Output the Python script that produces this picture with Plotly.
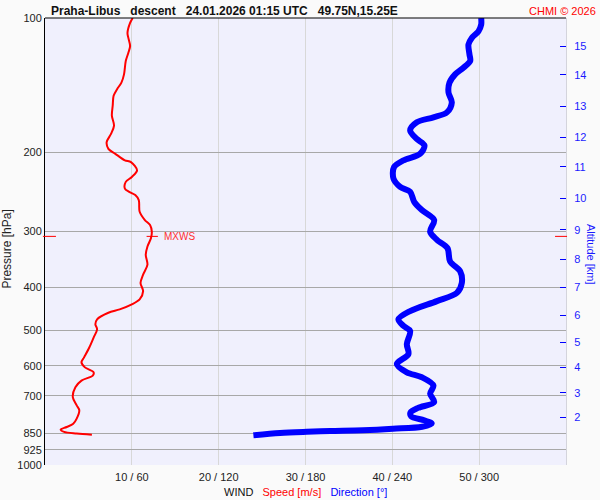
import plotly.graph_objects as go
import numpy as np

# ---- data ----
speed_p = [100.0, 102.6, 108.0, 110.8, 115.6, 119.6, 124.8, 133.7, 139.5, 144.3,
           149.3, 156.9, 165.4, 174.1, 181.7, 189.6, 196.2, 201.3, 208.2, 210.1,
           219.2, 226.8, 232.6, 240.7, 244.8, 249.0, 255.5, 271.3, 283.1, 290.4,
           300.5, 311.0, 324.4, 338.5, 356.3, 375.0, 391.5, 408.4, 426.1, 437.2,
           448.6, 456.4, 472.1, 484.3, 496.9, 518.6, 545.9, 574.5, 589.4, 604.8,
           620.4, 631.0, 647.4, 669.9, 705.1, 735.7, 754.7, 787.5, 808.8, 822.1,
           833.1, 843.4, 850.4, 855.5]
speed_ms = [10.1, 9.8, 9.5, 9.6, 9.8, 9.6, 9.3, 9.1, 8.8, 8.3,
            7.9, 7.8, 7.7, 7.95, 7.6, 7.1, 7.3, 8.1, 9.2, 9.9,
            10.6, 10.0, 9.3, 9.2, 9.7, 10.4, 10.8, 10.9, 11.5, 12.1,
            12.3, 12.2, 11.8, 11.6, 11.8, 11.3, 11.0, 11.3, 10.9, 10.0,
            8.6, 7.3, 6.0, 5.8, 6.0, 5.6, 5.1, 4.5, 4.2, 4.6,
            5.6, 5.5, 4.2, 3.5, 3.2, 3.65, 3.95, 3.65, 3.25, 2.5,
            1.8, 2.2, 3.65, 5.4]

dir_p = [100.0, 103.5, 107.1, 110.8, 114.6, 120.6, 124.8, 129.2, 133.7, 139.5,
         146.8, 154.5, 162.6, 166.8, 171.1, 178.5, 186.4, 192.8, 201.3, 208.2,
         215.4, 228.8, 238.7, 244.8, 257.7, 268.9, 283.1, 300.5, 313.5, 327.3,
         350.3, 368.7, 391.5, 412.0, 429.9, 452.5, 472.1, 488.6, 501.2, 536.6,
         564.8, 594.3, 620.4, 636.5, 664.0, 692.6, 723.3, 745.1, 762.5, 778.3,
         794.3, 807.8, 821.2, 829.7, 836.1, 839.5, 842.6, 847.7, 857.7]
dir_deg = [301.4, 301.4, 299.5, 294.9, 292.6, 293.3, 293.8, 289.1, 283.4, 279.5,
           278.8, 281.1, 277.7, 268.4, 256.9, 252.3, 256.9, 262.2, 259.2, 247.7,
           241.2, 240.8, 245.4, 252.3, 255.1, 260.4, 268.9, 266.1, 270.8, 278.1,
           279.9, 286.9, 288.0, 284.6, 270.8, 252.3, 244.2, 247.7, 252.3, 250.0,
           251.1, 243.1, 250.0, 260.4, 268.4, 266.1, 268.9, 257.8, 252.6, 253.0,
           262.0, 267.2, 260.6, 240.5, 219.8, 197.0, 180.9, 162.4, 144.0]

p_ticks = [100, 200, 300, 400, 500, 600, 700, 850, 925, 1000]
speed_ticks = [10, 20, 30, 40, 50]
dir_ticks = [60, 120, 180, 240, 300]
x_ticktext = [f"{s} / {d}" for s, d in zip(speed_ticks, dir_ticks)]
alt_km = [2, 3, 4, 5, 6, 7, 8, 9, 10, 11, 12, 13, 14, 15]
alt_p = [781.1, 689.2, 604.6, 531.0, 462.7, 400.2, 346.1, 297.9, 253.4, 215.4,
         185.0, 157.7, 134.1, 115.6]
mxws_p = 308.0
mxws_speed = 12.3

FONT = "Liberation Sans, Arial, sans-serif"
NB = "\u00a0"

fig = go.Figure()
fig.add_trace(go.Scatter(x=speed_ms, y=speed_p, mode="lines",
                         line=dict(color="#ff0000", width=2, shape="spline", smoothing=0.9),
                         xaxis="x", yaxis="y", hoverinfo="skip", showlegend=False))
fig.add_trace(go.Scatter(x=dir_deg, y=dir_p, mode="lines",
                         line=dict(color="#0000ff", width=6, shape="spline", smoothing=0.9),
                         xaxis="x2", yaxis="y2", hoverinfo="skip", showlegend=False))

fig.update_layout(
    width=600, height=500,
    margin=dict(l=45, r=34, t=15, b=35),
    paper_bgcolor="#fafafa", plot_bgcolor="#f0f0fd",
    font=dict(family=FONT, size=11, color="#222222"),
    xaxis=dict(range=[0, 60], tickvals=speed_ticks, ticktext=x_ticktext,
               showgrid=True, gridcolor="#d8d8d8", gridwidth=1, zeroline=False,
               showline=False, ticks="", ticklabelstandoff=4,
               tickfont=dict(size=11, color="#222222")),
    xaxis2=dict(range=[0, 360], overlaying="x", visible=False),
    yaxis=dict(type="log", range=[3, 2], tickvals=p_ticks,
               ticktext=[str(v) for v in p_ticks],
               showgrid=True, gridcolor="#a8a8a8", gridwidth=1, zeroline=False,
               showline=True, linecolor="black", linewidth=1, ticks="",
               tickfont=dict(size=11, color="#222222")),
    yaxis2=dict(type="log", range=[3, 2], overlaying="y", side="right",
                tickvals=alt_p, ticktext=[str(v) for v in alt_km],
                ticks="inside", ticklen=6, tickcolor="#0000ff", tickwidth=1,
                ticklabelstandoff=5,
                tickfont=dict(size=11, color="#1a1aff"),
                showgrid=False, zeroline=False, showline=True,
                linecolor="#d4d4dc", linewidth=1),
)

shapes = [
    dict(type="line", xref="paper", yref="paper", x0=0, x1=1, y0=1, y1=1,
         line=dict(color="black", width=1)),
    dict(type="line", xref="paper", yref="y", x0=-0.004, x1=0.021, y0=mxws_p, y1=mxws_p,
         line=dict(color="#ff0000", width=1)),
    dict(type="line", xref="x", yref="y", x0=mxws_speed - 0.6, x1=mxws_speed + 0.7,
         y0=mxws_p, y1=mxws_p, line=dict(color="#ff0000", width=1)),
    dict(type="line", xref="paper", yref="y", x0=0.979, x1=1.002, y0=mxws_p, y1=mxws_p,
         line=dict(color="#ff0000", width=1)),
]
fig.update_layout(shapes=shapes)

ann = [
    dict(text="<b>Praha-Libus" + NB*3 + "descent" + NB*3 + "24.01.2026 01:15 UTC" + NB*3 + "49.75N,15.25E</b>",
         xref="paper", yref="paper", x=0.0077, y=1.0156, xanchor="left", yanchor="middle",
         showarrow=False, font=dict(size=12, color="#111111")),
    dict(text="CHMI © 2026", xref="paper", yref="paper", x=1.0614, y=1.0156,
         xanchor="right", yanchor="middle", showarrow=False,
         font=dict(size=11, color="#ff0000")),
    dict(text="Pressure [hPa]", xref="paper", yref="paper", x=-0.072, y=0.483,
         textangle=-90, xanchor="center", yanchor="middle", showarrow=False,
         font=dict(size=12, color="#222222")),
    dict(text="Altitude [km]", xref="paper", yref="paper", x=1.048, y=0.472,
         textangle=90, xanchor="center", yanchor="middle", showarrow=False,
         font=dict(size=11, color="#1a1aff")),
    dict(text="WIND" + NB*3 + "<span style='color:#ff0000'>Speed [m/s]</span>" + NB*3 +
              "<span style='color:#0000ff'>Direction [°]</span>",
         xref="paper", yref="paper", x=0.5, y=-0.06, xanchor="center", yanchor="middle",
         showarrow=False, font=dict(size=11, color="#111111")),
    dict(text="MXWS", xref="x", yref="y", x=mxws_speed, y=np.log10(mxws_p),
         xanchor="left", yanchor="middle", xshift=10, showarrow=False,
         font=dict(size=10, color="#ff3030")),
]
fig.update_layout(annotations=ann)

fig.write_html("out.html", config={"displayModeBar": False},
               post_script="document.body.style.margin='0';document.body.style.padding='0';")
